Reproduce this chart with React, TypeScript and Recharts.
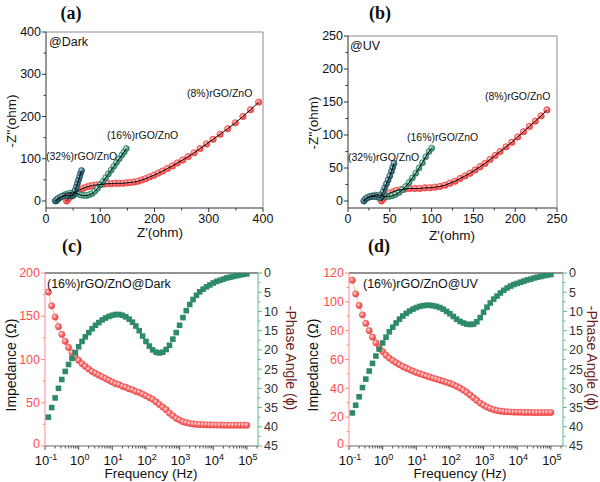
import { ComposedChart, Scatter, XAxis, YAxis } from "recharts";

const FONT = '"Liberation Sans", Arial, Helvetica, sans-serif';

// ---------- Nyquist (a): dark, Z'(ohm) / -Z''(ohm) ----------
const dark8Re = [38, 40, 43, 46, 50, 54, 58, 63, 68, 74, 80, 86, 93, 100, 107, 114, 121, 128, 135, 142, 149, 156, 163, 170, 177, 184, 191, 199, 207, 215, 224, 233, 242, 252, 262, 273, 284, 296, 308, 321, 335, 349, 363, 377, 392];
const dark8Im = [0, 4, 8, 12, 16, 20, 24, 27, 30, 33, 35, 37, 38, 39, 40, 41, 41, 42, 42, 42, 43, 44, 45, 47, 50, 53, 57, 61, 66, 71, 77, 83, 90, 97, 105, 114, 124, 135, 146, 158, 171, 185, 200, 216, 234];
const dark16Re = [19, 21, 24, 27, 31, 35, 40, 45, 50, 55, 60, 65, 70, 75, 80, 85, 90, 95, 100, 105, 110, 115, 120, 125, 130, 135, 140, 144, 148];
const dark16Im = [0, 3, 6, 9, 12, 15, 17, 19, 19, 18, 16, 14, 13, 13, 15, 18, 23, 30, 38, 46, 55, 64, 73, 82, 91, 100, 109, 116, 124];
const dark32Re = [17, 19, 22, 26, 30, 35, 40, 45, 48, 50, 52, 54, 56, 58, 60, 62, 64, 65.5];
const dark32Im = [0, 3, 6, 9, 11, 12, 13, 13, 12, 13, 18, 26, 34, 42, 50, 58, 66, 72];

// ---------- Nyquist (b): UV ----------
const uv8Re = [40, 42, 44, 47, 50, 54, 58, 63, 68, 74, 80, 86, 92, 98, 104, 110, 116, 122, 128, 134, 140, 146, 152, 158, 164, 170, 176, 182, 189, 196, 203, 210, 217, 224, 231, 238];
const uv8Im = [0, 3, 6, 9, 12, 14, 16, 17, 18, 19, 19, 19, 20, 20, 21, 22, 24, 27, 30, 34, 38, 42, 47, 52, 57, 63, 69, 75, 82, 89, 97, 105, 113, 121, 129, 138];
const uv16Re = [19, 21, 23, 26, 29, 33, 37, 41, 45, 49, 53, 57, 61, 65, 69, 73, 77, 81, 85, 89, 93, 97, 100];
const uv16Im = [0, 3, 5, 7, 8, 9, 9, 8, 7, 7, 8, 10, 13, 17, 22, 28, 35, 42, 50, 58, 67, 75, 80];
const uv32Re = [19, 21, 23, 26, 29, 32, 35, 38, 40, 42, 44, 46, 48, 50, 52, 53.5, 55];
const uv32Im = [0, 3, 5, 6, 7, 7, 6, 5, 9, 14, 20, 26, 32, 38, 45, 51, 57];

// ---------- Bode (c, d): (16%)rGO/ZnO ----------
const freqHz = [
  0.126, 0.158, 0.2, 0.251, 0.316, 0.398, 0.501, 0.631, 0.794,
  1, 1.26, 1.58, 2, 2.51, 3.16, 3.98, 5.01, 6.31, 7.94,
  10, 12.6, 15.8, 20, 25.1, 31.6, 39.8, 50.1, 63.1, 79.4,
  100, 126, 158, 200, 251, 316, 398, 501, 631, 794,
  1000, 1260, 1580, 2000, 2510, 3160, 3980, 5010, 6310, 7940,
  10000, 12600, 15800, 20000, 25100, 31600, 39800, 50100, 63100, 79400,
  100000,
];
const darkZ = [
  178, 162, 149, 138, 129, 121, 114, 108, 103,
  99, 95, 92, 89, 86, 84, 82, 80, 78, 76,
  74, 72, 71, 69, 68, 66, 65, 63, 62, 60,
  58, 56, 54, 51, 48, 45, 42, 38, 35, 32,
  30, 28, 27, 26, 25.5, 25, 24.8, 24.6, 24.5, 24.4,
  24.3, 24.2, 24.2, 24.1, 24.1, 24, 24, 24, 24, 24,
  24,
];
const darkPhase = [
  37.5, 35, 32.5, 30, 27.7, 25.6, 23.8, 22.2, 20.7,
  19.2, 17.8, 16.6, 15.5, 14.5, 13.6, 12.9, 12.2, 11.7, 11.3,
  11.0, 10.8, 10.8, 11.0, 11.4, 12.0, 12.8, 13.8, 15.0, 16.4,
  17.8, 19.0, 20.0, 20.6, 20.8, 20.6, 19.9, 18.8, 17.2, 15.5,
  13.6, 11.6, 9.8, 8.2, 6.9, 5.8, 4.9, 4.2, 3.6, 3.1,
  2.6, 2.2, 1.9, 1.6, 1.3, 1.1, 0.9, 0.7, 0.5, 0.35,
  0.2,
];
const uvZ = [
  115, 105.5, 97.5, 91, 85, 80, 75.5, 71.5, 68,
  65.5, 63, 61, 59.3, 57.8, 56.4, 55.1, 54, 53, 52,
  51, 50.2, 49.4, 48.6, 47.8, 47.1, 46.4, 45.7, 45, 44.2,
  43.4, 42.5, 41.4, 40.2, 38.8, 37.2, 35.4, 33.5, 31.6, 29.8,
  28.3, 27, 26, 25.2, 24.6, 24.2, 23.9, 23.7, 23.6, 23.5,
  23.4, 23.4, 23.3, 23.3, 23.3, 23.2, 23.2, 23.2, 23.2, 23.2,
  23.2,
];
const uvPhase = [
  36.4, 34.4, 32.2, 29.8, 27.6, 25.5, 23.5, 21.6, 19.8,
  18.2, 16.7, 15.3, 14.1, 13.0, 12.0, 11.2, 10.5, 9.9, 9.4,
  9.0, 8.7, 8.5, 8.4, 8.4, 8.5, 8.7, 9.0, 9.4, 10.0,
  10.6, 11.3, 12.0, 12.6, 13.0, 13.3, 13.4, 13.3, 12.7, 11.6,
  10.2, 8.9, 7.8, 6.8, 6.0, 5.2, 4.5, 3.9, 3.4, 3.0,
  2.7, 2.4, 2.1, 1.8, 1.6, 1.3, 1.1, 0.9, 0.7, 0.5,
  0.4,
];

const toPts = (xs: number[], ys: number[]) => xs.map((x, i) => ({ x, y: ys[i] }));

type Box = { left: number; top: number; width: number; height: number };
type Plot = { l: number; t: number; r: number; b: number };

// axes are 1px thick, so the plot rect comes straight from the margins
function marginFor(box: Box, p: Plot) {
  return {
    top: p.t - box.top - 1,
    bottom: box.top + box.height - p.b - 1,
    left: p.l - box.left - 1,
    right: box.left + box.width - p.r - 1,
  };
}

function range(from: number, to: number, step: number) {
  const out: number[] = [];
  for (let v = from; v <= to + 1e-9; v += step) out.push(Math.round(v * 1000) / 1000);
  return out;
}

const logTicks = (max: number) => {
  const out: number[] = [];
  for (let d = -1; d <= 5; d++) {
    out.push(d);
    for (let k = 2; k <= 9; k++) {
      const v = d + Math.log10(k);
      if (v <= max) out.push(v);
    }
  }
  return out;
};

type TickOpts = {
  side: "bottom" | "left" | "right";
  step?: number;
  log?: boolean;
  color: string;
  line: string;
  liftZero?: boolean;
};

function makeTick(o: TickOpts) {
  return (p: any) => {
    const v = p.payload.value as number;
    const major = o.log
      ? Math.abs(v - Math.round(v)) < 1e-6
      : Math.abs(v / o.step! - Math.round(v / o.step!)) < 1e-6;
    const len = major ? 4 : 2.5;
    const { x, y } = p;
    if (o.side === "bottom") {
      return (
        <g>
          <line x1={x} y1={y} x2={x} y2={y + len} stroke={o.line} strokeWidth={1} />
          {major &&
            (o.log ? (
              <text x={x + 1} y={y + 18.5} textAnchor="middle" fontSize={13} fill={o.color}>
                10<tspan dy={-4.5} fontSize={9}>{Math.round(v)}</tspan>
              </text>
            ) : (
              <text x={x} y={y + 15} textAnchor="middle" fontSize={12.5} fill={o.color}>
                {v}
              </text>
            ))}
        </g>
      );
    }
    if (o.side === "left") {
      const dy = o.liftZero && v === 0 ? 2.3 : 4.2;
      return (
        <g>
          <line x1={x - len} y1={y} x2={x} y2={y} stroke={o.line} strokeWidth={1} />
          {major && (
            <text x={x - 5} y={y + dy} textAnchor="end" fontSize={12.5} fill={o.color}>
              {v}
            </text>
          )}
        </g>
      );
    }
    return (
      <g>
        <line x1={x} y1={y} x2={x + len} y2={y} stroke={o.line} strokeWidth={1} />
        {major && (
          <text x={x + 6} y={y + 4.4} textAnchor="start" fontSize={12.5} fill={o.color}>
            {v}
          </text>
        )}
      </g>
    );
  };
}

type Series = { id: string; data: { x: number; y: number }[]; r: number; hi: string; mid: string; edge: string };

const noMark = () => <g />;

function NyquistPanel({ box, plot, xMax, yMin, yMax, step, series }: {
  box: Box; plot: Plot; xMax: number; yMin: number; yMax: number; step: number; series: Series[];
}) {
  const xTicks = range(0, xMax, step / 2);
  const yTicks = range(0, yMax, step / 2);
  return (
    <div style={{ position: "absolute", left: box.left, top: box.top }}>
      <ComposedChart width={box.width} height={box.height} margin={marginFor(box, plot)}>
        <defs>
          {series.map((s) => (
            <radialGradient key={s.id} id={s.id} cx="35%" cy="35%" r="70%">
              <stop offset="0%" stopColor={s.hi} />
              <stop offset="55%" stopColor={s.mid} />
              <stop offset="100%" stopColor={s.edge} />
            </radialGradient>
          ))}
        </defs>
        <XAxis xAxisId="top" orientation="top" type="number" dataKey="x" domain={[0, xMax]} height={1}
          ticks={[0]} tick={false} tickLine={false} axisLine={{ stroke: "#8a8a8a" }} allowDataOverflow />
        <YAxis yAxisId="frame" orientation="right" type="number" domain={[yMin, yMax]} width={1}
          ticks={[0]} tick={false} tickLine={false} axisLine={{ stroke: "#8a8a8a" }} allowDataOverflow />
        <XAxis type="number" dataKey="x" domain={[0, xMax]} height={1} ticks={xTicks} interval={0}
          tickSize={0} tickMargin={0} tickLine={false} axisLine={{ stroke: "#333" }} allowDataOverflow
          tick={makeTick({ side: "bottom", step, color: "#111", line: "#333" })} />
        <YAxis type="number" domain={[yMin, yMax]} width={1} ticks={yTicks} interval={0}
          tickSize={0} tickMargin={0} tickLine={false} axisLine={{ stroke: "#333" }} allowDataOverflow
          tick={makeTick({ side: "left", step, color: "#111", line: "#333" })} />
        {series.map((s) => (
          <Scatter key={"s" + s.id} data={s.data} dataKey="y" isAnimationActive={false}
            shape={(p: any) => (
              <circle cx={p.cx} cy={p.cy} r={s.r} fill={`url(#${s.id})`} stroke={s.edge} strokeWidth={0.7} />
            )} />
        ))}
        {/* black fitted curves over the measured points */}
        {series.map((s) => (
          <Scatter key={"f" + s.id} data={s.data} dataKey="y" isAnimationActive={false}
            line={{ stroke: "#000", strokeWidth: 1 }} lineJointType="monotoneX" shape={noMark} />
        ))}
      </ComposedChart>
    </div>
  );
}

function BodePanel({ box, plot, xMax, zMax, zStep, zArr, phArr, gid }: {
  box: Box; plot: Plot; xMax: number; zMax: number; zStep: number; zArr: number[]; phArr: number[]; gid: string;
}) {
  const table = freqHz.map((f, i) => ({ lf: Math.log10(f), z: zArr[i], ph: phArr[i] }));
  return (
    <div style={{ position: "absolute", left: box.left, top: box.top }}>
      <ComposedChart width={box.width} height={box.height} margin={marginFor(box, plot)} data={table}>
        <defs>
          <radialGradient id={gid} cx="35%" cy="35%" r="70%">
            <stop offset="0%" stopColor="#ffe2e2" />
            <stop offset="50%" stopColor="#ff7070" />
            <stop offset="100%" stopColor="#e93b3b" />
          </radialGradient>
        </defs>
        <XAxis xAxisId="top" orientation="top" type="number" dataKey="lf" domain={[-1, xMax]} height={1}
          ticks={[0]} tick={false} tickLine={false} axisLine={{ stroke: "#6e6e6e", strokeWidth: 1.5 }} allowDataOverflow />
        <XAxis type="number" dataKey="lf" domain={[-1, xMax]} height={1} ticks={logTicks(xMax)} interval={0}
          tickSize={0} tickMargin={0} tickLine={false} axisLine={{ stroke: "#666" }} allowDataOverflow
          tick={makeTick({ side: "bottom", log: true, color: "#111", line: "#555" })} />
        <YAxis yAxisId="z" type="number" domain={[0, zMax]} width={1} ticks={range(0, zMax, zStep / 2)} interval={0}
          tickSize={0} tickMargin={0} tickLine={false} axisLine={{ stroke: "#ff8a8a" }} allowDataOverflow
          tick={makeTick({ side: "left", step: zStep, color: "#ff4d4d", line: "#ff8a8a", liftZero: true })} />
        <YAxis yAxisId="ph" orientation="right" type="number" domain={[0, 45]} reversed width={1}
          ticks={range(0, 45, 2.5)} interval={0} tickSize={0} tickMargin={0} tickLine={false}
          axisLine={{ stroke: "#5fb894" }} allowDataOverflow
          tick={makeTick({ side: "right", step: 5, color: "#333", line: "#5fb894" })} />
        <Scatter yAxisId="z" dataKey="z" isAnimationActive={false}
          line={{ stroke: "#f6a3a3", strokeWidth: 0.8 }}
          shape={(p: any) => (
            <circle cx={p.cx} cy={p.cy} r={3.1} fill={`url(#${gid})`} stroke="#ea4545" strokeWidth={0.6} />
          )} />
        <Scatter yAxisId="ph" dataKey="ph" isAnimationActive={false}
          shape={(p: any) => <rect x={p.cx - 2.8} y={p.cy - 2.8} width={5.6} height={5.6} fill="#2e8b68" />} />
      </ComposedChart>
    </div>
  );
}

function Txt({ x, y, text, size = 12.5, rot = 0, color = "#111", align = "center", bold = false, serif = false }: {
  x: number; y: number; text: string; size?: number; rot?: number; color?: string; align?: "center" | "left"; bold?: boolean; serif?: boolean;
}) {
  const tx = align === "center" ? "-50%" : "0";
  return (
    <div style={{
      position: "absolute", left: x, top: y, transform: `translate(${tx}, -50%) rotate(${rot}deg)`,
      fontSize: size, color, whiteSpace: "nowrap", lineHeight: 1, fontWeight: bold ? 700 : 400,
      fontFamily: serif ? '"Liberation Serif", "Times New Roman", serif' : FONT,
    }}>
      {text}
    </div>
  );
}

const red8 = { r: 3.2, hi: "#ffd6d6", mid: "#ff6b6b", edge: "#e8403f" };
const teal16 = { r: 3, hi: "#d2f3e6", mid: "#4fae8e", edge: "#2c7560" };
const slate32 = { r: 3, hi: "#d0e8ee", mid: "#3f8394", edge: "#1e4b58" };

export default function App() {
  return (
    <div style={{ position: "absolute", left: 0, top: 0, width: 600, height: 482, background: "#fff", overflow: "hidden", fontFamily: FONT }}>
      <NyquistPanel
        box={{ left: 0, top: 0, width: 300, height: 240 }}
        plot={{ l: 46, t: 32, r: 263, b: 208 }}
        xMax={400} yMin={-16.6} yMax={400} step={100}
        series={[
          { id: "gA8", data: toPts(dark8Re, dark8Im), ...red8 },
          { id: "gA16", data: toPts(dark16Re, dark16Im), ...teal16 },
          { id: "gA32", data: toPts(dark32Re, dark32Im), ...slate32 },
        ]}
      />
      <NyquistPanel
        box={{ left: 300, top: 0, width: 300, height: 240 }}
        plot={{ l: 348, t: 36, r: 557, b: 208 }}
        xMax={250} yMin={-10.6} yMax={250} step={50}
        series={[
          { id: "gB8", data: toPts(uv8Re, uv8Im), ...red8 },
          { id: "gB16", data: toPts(uv16Re, uv16Im), ...teal16 },
          { id: "gB32", data: toPts(uv32Re, uv32Im), ...slate32 },
        ]}
      />
      <BodePanel
        box={{ left: 0, top: 240, width: 300, height: 242 }}
        plot={{ l: 45, t: 273, r: 258, b: 446 }}
        xMax={5.33} zMax={200} zStep={50} zArr={darkZ} phArr={darkPhase} gid="gC"
      />
      <BodePanel
        box={{ left: 300, top: 240, width: 300, height: 242 }}
        plot={{ l: 349, t: 273, r: 563, b: 446 }}
        xMax={5.36} zMax={120} zStep={20} zArr={uvZ} phArr={uvPhase} gid="gD"
      />

      <Txt x={71} y={13} text="(a)" size={18} bold serif />
      <Txt x={380} y={13} text="(b)" size={18} bold serif />
      <Txt x={72} y={246} text="(c)" size={18} bold serif />
      <Txt x={379} y={246} text="(d)" size={18} bold serif />

      <Txt x={49} y={42} text="@Dark" align="left" />
      <Txt x={187} y={93} text="(8%)rGO/ZnO" size={10.5} align="left" />
      <Txt x={107} y={135} text="(16%)rGO/ZnO" size={10.5} align="left" />
      <Txt x={46} y={156} text="(32%)rGO/ZnO" size={10.5} align="left" />
      <Txt x={11.5} y={121} text="-Z''(ohm)" size={13.5} rot={-90} />
      <Txt x={160} y={233} text="Z'(ohm)" size={13.5} />

      <Txt x={350} y={46} text="@UV" align="left" />
      <Txt x={485} y={96} text="(8%)rGO/ZnO" size={10.5} align="left" />
      <Txt x={407} y={137} text="(16%)rGO/ZnO" size={10.5} align="left" />
      <Txt x={348} y={157} text="(32%)rGO/ZnO" size={10.5} align="left" />
      <Txt x={313.5} y={123} text="-Z''(ohm)" size={13.5} rot={-90} />
      <Txt x={452} y={236} text="Z'(ohm)" size={13.5} />

      <Txt x={47} y={283.5} text="(16%)rGO/ZnO@Dark" align="left" />
      <Txt x={10.5} y={365} text="Impedance (Ω)" size={14} rot={-90} />
      <Txt x={291} y={358} text="-Phase Angle (ϕ)" size={14} rot={90} color="#6e1d1d" />
      <Txt x={151} y={474} text="Frequency (Hz)" size={13.5} />

      <Txt x={363} y={283.5} text="(16%)rGO/ZnO@UV" align="left" />
      <Txt x={312.5} y={365} text="Impedance (Ω)" size={14} rot={-90} />
      <Txt x={592} y={358} text="-Phase Angle (ϕ)" size={14} rot={90} color="#6e1d1d" />
      <Txt x={460} y={474} text="Frequency (Hz)" size={13.5} />
    </div>
  );
}
